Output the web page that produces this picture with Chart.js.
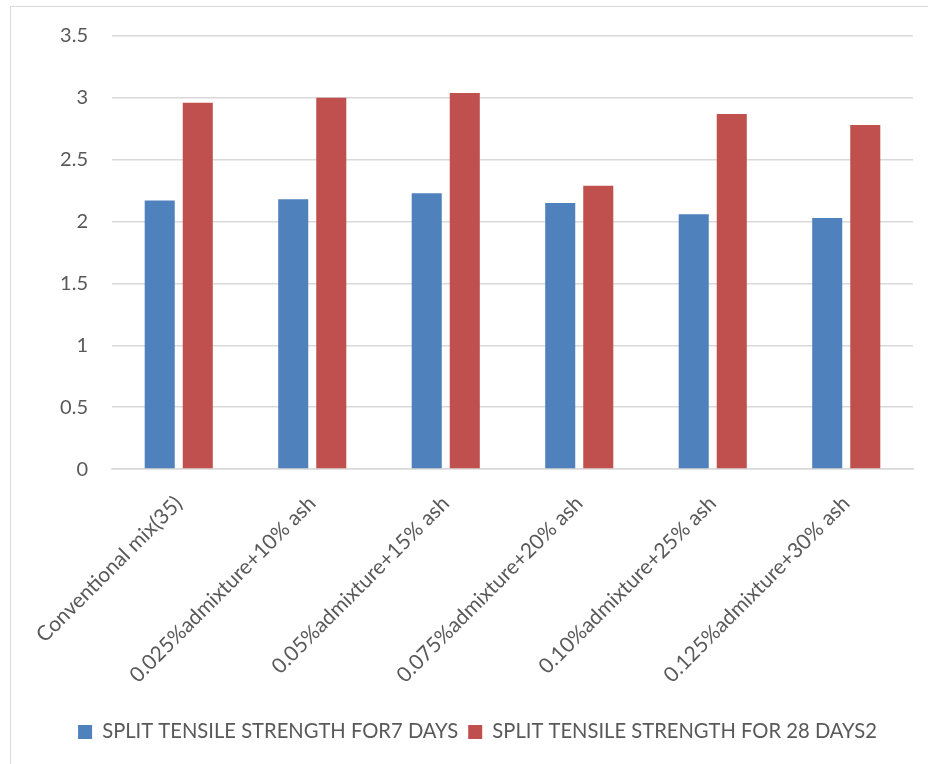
<!DOCTYPE html>
<html>
<head>
<meta charset="utf-8">
<script src="https://cdn.jsdelivr.net/npm/chart.js@4"></script>
<style>
  body { margin: 0; background: #fff; }
  #frame { position: absolute; left: 10px; top: 6px; width: 940px; height: 790px; border: 1px solid #d9d9d9; }
  #wrap { position: absolute; left: 0; top: 0; width: 928px; height: 764px; }
</style>
</head>
<body>
<div id="frame"></div>
<div id="wrap"><canvas id="strengthChart"></canvas></div>
<script>
const categories = [
  "Conventional mix(35)",
  "0.025%admixture+10% ash",
  "0.05%admixture+15% ash",
  "0.075%admixture+20% ash",
  "0.10%admixture+25% ash",
  "0.125%admixture+30% ash"
];
const days7 = [2.17, 2.18, 2.23, 2.15, 2.06, 2.03];
const days28 = [2.96, 3.0, 3.04, 2.29, 2.87, 2.78];
const seriesNames = ["SPLIT TENSILE STRENGTH FOR7 DAYS", "SPLIT TENSILE STRENGTH FOR 28 DAYS2"];
const yTicks = [0, 0.5, 1, 1.5, 2, 2.5, 3, 3.5];

const font = { family: "Lato", size: 20 };

// the legend sits centred on the outer frame, a bit right of the plot
const shiftLegend = {
  id: "shiftLegend",
  afterLayout(chart) {
    chart.legend.left += 16;
    chart.legend.right += 16;
    chart.legend.top += 10;
  }
};

const ctx = document.getElementById("strengthChart");
new Chart(ctx, {
  type: "bar",
  data: {
    labels: categories,
    datasets: [{
      label: seriesNames[0],
      data: days7,
      backgroundColor: "#4f81bd"
    }, {
      label: seriesNames[1],
      data: days28,
      backgroundColor: "#c0504d"
    }]
  },
  options: {
    responsive: true,
    maintainAspectRatio: false,
    animation: false,
    categoryPercentage: 0.57,
    barPercentage: 0.79,
    layout: { padding: { left: 10, right: 15, top: 29, bottom: 22 } },
    plugins: {
      legend: {
        position: "bottom",
        labels: { font: { family: "Lato", size: 20.2 }, color: "#595959", boxWidth: 14, boxHeight: 14, padding: 10 }
      },
      tooltip: { enabled: false }
    },
    scales: {
      x: {
        grid: { display: false },
        border: { color: "#d9d9d9", width: 1.5 },
        ticks: { font: { family: "Lato", size: 21 }, color: "#595959", minRotation: 45, maxRotation: 45, padding: 14 }
      },
      y: {
        min: 0,
        max: 3.5,
        afterBuildTicks: axis => { axis.ticks = yTicks.map(v => ({ value: v })); },
        afterFit: axis => { axis.width = 102; },
        grid: { color: "#d9d9d9", lineWidth: 1.5, drawTicks: false },
        border: { display: false },
        ticks: { font: font, color: "#595959", padding: 24, callback: v => String(v) }
      }
    }
  },
  plugins: [shiftLegend]
});
</script>
</body>
</html>
